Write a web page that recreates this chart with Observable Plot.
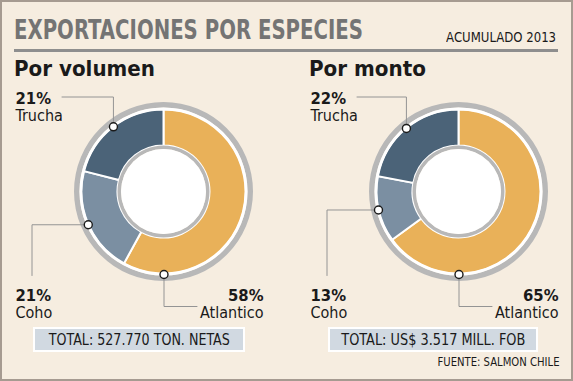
<!DOCTYPE html>
<html><head><meta charset="utf-8">
<script src="https://cdn.jsdelivr.net/npm/d3@7"></script>
<script src="https://cdn.jsdelivr.net/npm/@observablehq/plot@0.6"></script>
<style>
html,body{margin:0;padding:0;background:#f6ede0;}
#card{position:relative;width:573px;height:381px;overflow:hidden;background:#f6ede0;box-shadow:inset 0 0 0 2px #a69b91;font-family:"DejaVu Sans",sans-serif;font-stretch:condensed;color:#1a1a1a;}
#card .t{position:absolute;white-space:nowrap;}
#card svg{position:absolute;}
#card svg text{font-stretch:condensed;}
</style></head>
<body><div id="card"></div>
<script>
// ---- data ----
const species = ["Atlantico", "Coho", "Trucha"];
const volumenPct = [58, 21, 21];
const montoPct = [65, 13, 22];
const panelTitles = ["Por volumen", "Por monto"];
const totals = ["TOTAL: 527.770 TON. NETAS", "TOTAL: US$ 3.517 MILL. FOB"];
const title = "EXPORTACIONES POR ESPECIES";
const subtitle = "ACUMULADO 2013";
const source = "FUENTE: SALMON CHILE";
const speciesColors = ["#e9b159", "#7b8fa2", "#4b6378"];

const card = document.getElementById("card");
const FONT = '"DejaVu Sans", sans-serif';

function addText(str, o) {
  const el = document.createElement("div");
  el.className = "t";
  el.textContent = str;
  Object.assign(el.style, {
    fontSize: o.size + "px", lineHeight: o.size + "px",
    fontWeight: o.weight || 400, color: o.color || "#1a1a1a",
    top: (o.baseline - 0.846 * o.size) + "px"
  });
  if (o.right != null) { el.style.right = (573 - o.right) + "px"; el.style.transformOrigin = "right center"; }
  else { el.style.left = o.left + "px"; el.style.transformOrigin = "left center"; }
  card.appendChild(el);
  if (o.width) {
    const w = el.getBoundingClientRect().width;
    el.style.transform = `scaleX(${o.width / w})`;
  }
  return el;
}

function addBox(str, left, width, textWidth) {
  const box = document.createElement("div");
  Object.assign(box.style, {
    position: "absolute", left: left + "px", top: "327px", width: width + "px", height: "25px",
    boxSizing: "border-box", background: "#d1d9e1", border: "2px solid #fff",
    textAlign: "center", fontSize: "15px", lineHeight: "22px", whiteSpace: "nowrap"
  });
  const span = document.createElement("span");
  span.textContent = str;
  span.style.display = "inline-block";
  span.style.transformOrigin = "center center";
  box.appendChild(span);
  card.appendChild(box);
  const w = span.getBoundingClientRect().width;
  span.style.transform = `scaleX(${textWidth / w})`;
}

// header
addText(title, {left: 14, baseline: 38.5, size: 27, weight: 700, color: "#747474", width: 349});
addText(subtitle, {right: 556, baseline: 41.7, size: 14, width: 110});
const rule = document.createElement("div");
Object.assign(rule.style, {position: "absolute", left: "14px", top: "48.5px", width: "544px", height: "3px", background: "#8e8e8e"});
card.appendChild(rule);

// label layout per species (positions relative to donut centre, px)
const layout = {
  Trucha:    {leader: d => [[d.dx, d.dy], [d.dx, -95], [-102, -95]], lx: -148.5, ly: -88.5, anchor: "start"},
  Coho:      {leader: d => [[d.dx, d.dy], [-132, d.dy], [-132, 83.5]],  lx: -148.5, ly: 108.5, anchor: "start"},
  Atlantico: {leader: d => [[d.dx, d.dy], [d.dx, 114.5], [33, 114.5]],   lx: 99.5,   ly: 108.5, anchor: "end"}
};
const R_DOT = 82.5;

function donut(values, offsetLeft) {
  const W = 286, H = 270, cx = 163.5, cy = 136.5;
  const pie = d3.pie().sort(null).value(d => d)(values);
  const rows = species.map((s, k) => {
    const start = pie[k].startAngle, end = pie[k].endAngle;
    const a = s === "Atlantico" ? Math.PI : (start + end) / 2;
    return {species: s, pct: values[k], color: speciesColors[k], start, end,
            dx: R_DOT * Math.sin(a), dy: -R_DOT * Math.cos(a)};
  });
  const leaders = rows.flatMap(d => layout[d.species].leader(d).map(([x, y]) => ({species: d.species, x, y})));

  const ring = (index, {x, y}) => {
    const k = x(1) - x(0);
    const g = d3.create("svg:g").attr("transform", `translate(${x(0)},${y(0)})`);
    const arc = d3.arc();
    const full = (r0, r1, fill) => g.append("path")
      .attr("d", arc({innerRadius: r0 * k, outerRadius: r1 * k, startAngle: 0, endAngle: 2 * Math.PI}))
      .attr("fill", fill);
    full(84, 89.5, "#b8b8b8");
    for (const d of rows) {
      g.append("path")
        .attr("d", arc({innerRadius: 46 * k, outerRadius: 82 * k, startAngle: d.start, endAngle: d.end}))
        .attr("fill", d.color).attr("stroke", "#fff").attr("stroke-width", 2);
    }
    full(81.5, 84, "#fff");
    full(42.5, 46, "#b8b8b8");
    full(0, 42.5, "#fff");
    return g.node();
  };

  const textMarks = [];
  for (const anchor of ["start", "end"]) {
    const grp = rows.filter(d => layout[d.species].anchor === anchor);
    textMarks.push(
      Plot.text(grp, {x: d => layout[d.species].lx, y: d => layout[d.species].ly, text: d => d.pct + "%",
        textAnchor: anchor, lineAnchor: "bottom", fontSize: 16.5, fontWeight: "bold", fill: "#1a1a1a"}),
      Plot.text(grp, {x: d => layout[d.species].lx, y: d => layout[d.species].ly + 17.5, text: "species",
        textAnchor: anchor, lineAnchor: "bottom", fontSize: 16, fill: "#1a1a1a"})
    );
  }

  const svg = Plot.plot({
    width: W, height: H, margin: 0,
    x: {domain: [-cx, W - cx], range: [0, W], axis: null},
    y: {domain: [-cy, H - cy], range: [0, H], axis: null},
    style: {fontFamily: FONT, background: "transparent", overflow: "visible"},
    marks: [
      ring,
      Plot.line(leaders, {x: "x", y: "y", z: "species", stroke: "#949494", strokeWidth: 1}),
      Plot.dot(rows, {x: "dx", y: "dy", r: 4, fill: "#fff", stroke: "#1a1a1a", strokeWidth: 1.4}),
      ...textMarks
    ]
  });
  svg.style.left = offsetLeft + "px";
  svg.style.top = "55px";
  card.appendChild(svg);
}

donut(volumenPct, 0);
donut(montoPct, 295);

addText(panelTitles[0], {left: 14, baseline: 77, size: 21, weight: 700, width: 141});
addText(panelTitles[1], {left: 309, baseline: 77, size: 21, weight: 700, width: 117});
addBox(totals[0], 33, 212, 181);
addBox(totals[1], 328, 210, 184);
addText(source, {right: 559, baseline: 366.7, size: 11.5, width: 122});
</script>
</body></html>
